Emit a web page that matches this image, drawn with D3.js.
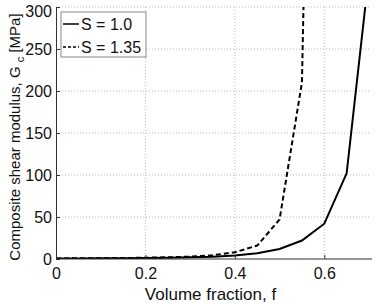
<!DOCTYPE html>
<html>
<head>
<meta charset="utf-8">
<script src="https://cdn.jsdelivr.net/npm/d3@7"></script>
<style>
  body { margin: 0; background: #fff; }
  text { font-family: "Liberation Sans", Arial, sans-serif; fill: #111; }
</style>
</head>
<body>
<script>
var margin = {top: 7, right: 9, bottom: 45, left: 56};
var width = 378 - margin.left - margin.right,
    height = 304 - margin.top - margin.bottom;

// volume fraction f
var fracs = [0, 0.05, 0.1, 0.15, 0.2, 0.25, 0.3, 0.35, 0.4, 0.45, 0.5, 0.55, 0.6, 0.65, 0.7];
// composite shear modulus Gc [MPa]
var gS10  = [0.6, 0.7, 0.8, 1.0, 1.2, 1.5, 2.0, 2.8, 4.2, 6.8, 12, 22, 42, 102, 340];
var gS135 = [0.7, 0.8, 1.0, 1.2, 1.5, 2.0, 2.8, 4.5, 8, 16, 47, 210, 1500];
var seriesNames = ["S = 1.0", "S = 1.35"];
var xTicks = [0, 0.2, 0.4, 0.6];
var yTicks = [0, 50, 100, 150, 200, 250, 300];

var svg = d3.select("body")
    .append("svg")
    .attr("width", 378)
    .attr("height", 304)
    .append("g")
    .attr("transform", "translate(" + margin.left + "," + margin.top + ")");

var xScale = d3.scaleLinear().domain([0, 0.7]).range([0, width]),
    yScale = d3.scaleLinear().domain([0, 300]).range([height, 0]);

// grid
svg.selectAll(".vgrid")
    .data(xTicks.filter(function (d) { return d > 0; }))
    .enter().append("line")
    .attr("x1", function (d) { return xScale(d); })
    .attr("x2", function (d) { return xScale(d); })
    .attr("y1", 0).attr("y2", height)
    .attr("stroke", "#bbb").attr("stroke-dasharray", "1,2");
svg.selectAll(".hgrid")
    .data(yTicks.filter(function (d) { return d > 0; }))
    .enter().append("line")
    .attr("y1", function (d) { return yScale(d); })
    .attr("y2", function (d) { return yScale(d); })
    .attr("x1", 0).attr("x2", width)
    .attr("stroke", "#bbb").attr("stroke-dasharray", "1,2");

svg.append("clipPath").attr("id", "clip")
    .append("rect").attr("width", width).attr("height", height);

var line = d3.line()
    .x(function (d) { return xScale(d[0]); })
    .y(function (d) { return yScale(d[1]); });

svg.append("path")
    .datum(gS10.map(function (g, i) { return [fracs[i], g]; }))
    .attr("clip-path", "url(#clip)")
    .attr("d", line)
    .attr("fill", "none").attr("stroke", "#000").attr("stroke-width", 2);

svg.append("path")
    .datum(gS135.map(function (g, i) { return [fracs[i], g]; }))
    .attr("clip-path", "url(#clip)")
    .attr("d", line)
    .attr("fill", "none").attr("stroke", "#000").attr("stroke-width", 2)
    .attr("stroke-dasharray", "5,3");

// axes
var xAxis = svg.append("g")
    .attr("transform", "translate(0," + height + ")")
    .call(d3.axisBottom(xScale).tickValues(xTicks).tickSize(-4).tickPadding(9)
        .tickFormat(function (d) { return d === 0 ? "0" : d3.format(".1f")(d); }));
var yAxis = svg.append("g")
    .call(d3.axisLeft(yScale).tickValues(yTicks).tickSize(-4).tickPadding(4));

[xAxis, yAxis].forEach(function (a) {
    a.select(".domain").attr("stroke", "#333");
    a.selectAll(".tick line").attr("stroke", "#333");
    a.selectAll("text").style("font-size", "16px").attr("fill", "#111");
});
xAxis.select(".domain").attr("d", "M0,0H" + (width + 3));
yAxis.select(".tick:last-of-type text").attr("dy", "0.6em");

svg.append("text")
    .attr("x", xScale(0.35) - 2)
    .attr("y", height + 41)
    .attr("text-anchor", "middle")
    .style("font-size", "17px")
    .text("Volume fraction, f");

var yl = svg.append("text")
    .attr("transform", "translate(" + (20 - margin.left) + "," + (137 - margin.top) + ") rotate(-90)")
    .attr("text-anchor", "middle")
    .style("font-size", "15px");
yl.append("tspan").text("Composite shear modulus, G ");
yl.append("tspan").attr("dy", 4).style("font-size", "11px").text("c");
yl.append("tspan").attr("dy", -4).text(" [MPa]");

// legend
var leg = svg.append("g").attr("transform", "translate(5,5)");
leg.append("rect")
    .attr("width", 85).attr("height", 45)
    .attr("fill", "#fff").attr("stroke", "#888");
seriesNames.forEach(function (name, i) {
    var y = 12 + i * 23;
    leg.append("line")
        .attr("x1", 2).attr("x2", 18)
        .attr("y1", y).attr("y2", y)
        .attr("stroke", "#000").attr("stroke-width", 1.5)
        .attr("stroke-dasharray", i === 1 ? "3,2" : null);
    leg.append("text")
        .attr("x", 20).attr("y", y + 6)
        .style("font-size", "16px")
        .text(name);
});
</script>
</body>
</html>
